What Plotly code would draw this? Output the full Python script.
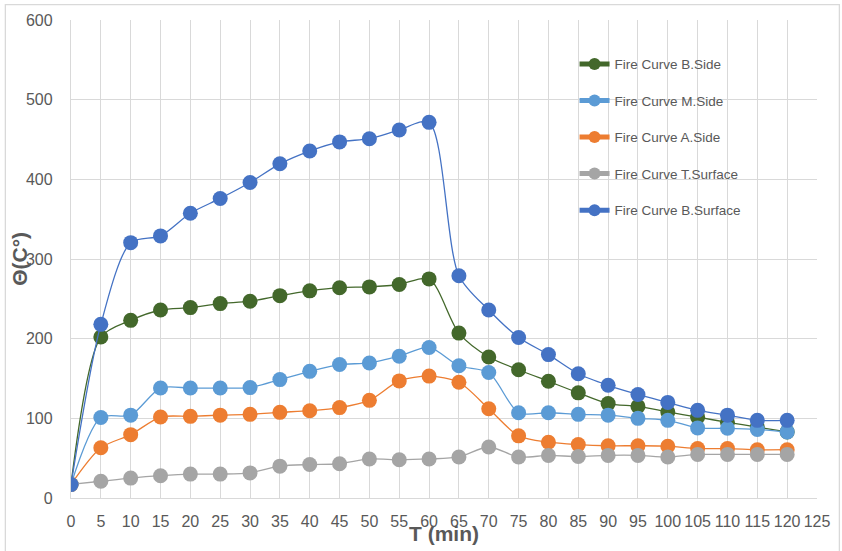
import plotly.graph_objects as go

t_min = [0, 5, 10, 15, 20, 25, 30, 35, 40, 45, 50, 55, 60, 65, 70, 75, 80, 85, 90, 95, 100, 105, 110, 115, 120]

b_side = [17, 202, 223, 236, 239, 244, 247, 254, 260, 264, 265, 268, 275, 207, 177, 161, 146.5, 132, 118.5, 115, 108, 101.5, 95, 89, 83]
m_side = [17, 101, 104, 138, 138, 138, 138.6, 148.6, 159, 167.5, 169.5, 178, 189, 166, 157.5, 107, 107, 105, 104, 100, 97.5, 88, 87.5, 86, 83]
a_side = [17, 63, 79.5, 101.6, 102.5, 104, 105, 107.5, 109.6, 113.5, 122.6, 147, 153, 145.3, 112, 78, 70, 67, 65.6, 65.6, 65, 62, 62, 60.6, 60.6]
t_surface = [17, 21, 25, 28, 30, 30, 31.5, 40, 42, 43, 49, 48, 49, 51.5, 64, 51.5, 53.5, 52, 53.5, 53.5, 51.5, 54.7, 54.7, 54.7, 54.7]
b_surface = [17, 218, 320.5, 329, 357.5, 376, 396, 419.5, 435.5, 447, 451, 462, 471.5, 279, 236, 201.5, 180, 156, 141.5, 130, 120, 110, 104, 97.5, 97.5]

series_names = ["Fire Curve B.Side", "Fire Curve M.Side", "Fire Curve A.Side",
                "Fire Curve T.Surface", "Fire Curve B.Surface"]
series_values = [b_side, m_side, a_side, t_surface, b_surface]
series_colors = ["#43682B", "#5B9BD5", "#ED7D31", "#A5A5A5", "#4472C4"]

x_ticks = list(range(0, 126, 5))
y_ticks = list(range(0, 601, 100))

fig = go.Figure()
for i, (name, vals, col) in enumerate(zip(series_names, series_values, series_colors)):
    fig.add_trace(go.Scatter(
        x=t_min, y=vals, name=name, mode="lines+markers",
        line=dict(color=col, width=1.3, shape="spline", smoothing=0.8),
        marker=dict(color=col, size=15),
        legendgroup=f"g{i}",
    ))

txt = "#595959"
grid = "#D9D9D9"
fig.update_layout(
    width=842, height=551,
    margin=dict(l=71, r=21, t=20, b=53),
    paper_bgcolor="white", plot_bgcolor="white",
    font=dict(family="Liberation Sans, Arial, sans-serif", color=txt),
    showlegend=True,
    legend=dict(
        x=0.675, y=0.94, xanchor="left", yanchor="top",
        bgcolor="rgba(0,0,0,0)", font=dict(size=13.5, color=txt),
        traceorder="grouped", tracegroupgap=16, itemsizing="constant",
    ),
    xaxis=dict(
        range=[0, 125], tickvals=x_ticks, ticktext=[str(v) for v in x_ticks],
        tickangle=0, showgrid=True, gridcolor=grid, gridwidth=1.3,
        showline=True, linecolor=grid, linewidth=1.3, zeroline=False,
        tickfont=dict(size=16, color=txt), ticklabelstandoff=9,
    ),
    yaxis=dict(
        range=[0, 600], tickvals=y_ticks, ticktext=[str(v) for v in y_ticks],
        showgrid=True, gridcolor=grid, gridwidth=1.3,
        showline=True, linecolor=grid, linewidth=1.3, zeroline=False,
        tickfont=dict(size=16, color=txt), ticklabelstandoff=14,
    ),
    annotations=[
        dict(text="<b>T (min)</b>", xref="paper", yref="paper", x=0.5, y=-0.074,
             xanchor="center", yanchor="middle", showarrow=False,
             font=dict(size=21, color=txt)),
        dict(text="<b>Θ(C°)</b>", xref="paper", yref="paper", x=-0.07, y=0.5,
             xanchor="center", yanchor="middle", showarrow=False, textangle=-90,
             font=dict(size=21, color=txt)),
    ],
    shapes=[
        dict(type="rect", xref="paper", yref="paper", x0=-0.088, x1=1.03,
             y0=-0.12, y1=1.032, line=dict(color=grid, width=1.3),
             fillcolor="rgba(0,0,0,0)", layer="below"),
    ],
)

fig.write_html("out.html")
